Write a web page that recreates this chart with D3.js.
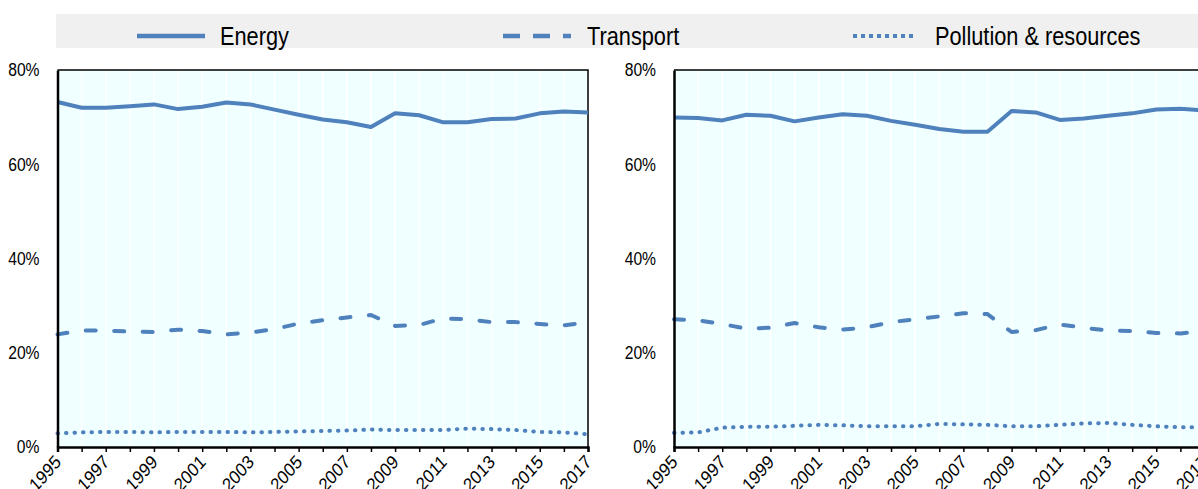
<!DOCTYPE html>
<html>
<head>
<meta charset="utf-8">
<script src="https://cdn.jsdelivr.net/npm/d3@7"></script>
<style>
  body { margin: 0; background: #fff; }
  text { font-family: "Liberation Sans", Arial, sans-serif; fill: #000; }
</style>
</head>
<body>
<div id="chart"></div>
<script>
let years = d3.range(1995, 2018);
let seriesNames = ['Energy', 'Transport', 'Pollution & resources'];
let yTicks = [0, 20, 40, 60, 80];
let xLabelYears = [1995, 1997, 1999, 2001, 2003, 2005, 2007, 2009, 2011, 2013, 2015, 2017];

// left panel, shares in %
let leftEnergy = [73.2, 72.0, 72.0, 72.3, 72.7, 71.7, 72.2, 73.1, 72.7, 71.6, 70.5, 69.5, 68.9, 67.9, 70.8, 70.4, 68.9, 68.9, 69.6, 69.7, 70.8, 71.2, 71.0];
let leftTransport = [23.9, 24.7, 24.7, 24.5, 24.4, 24.9, 24.6, 23.9, 24.3, 25.0, 26.2, 26.9, 27.5, 28.0, 25.7, 25.9, 27.3, 27.1, 26.5, 26.5, 26.1, 25.8, 26.5];
let leftPollution = [2.9, 3.1, 3.2, 3.2, 3.1, 3.2, 3.2, 3.2, 3.1, 3.2, 3.3, 3.4, 3.5, 3.7, 3.6, 3.6, 3.6, 3.9, 3.8, 3.6, 3.2, 3.1, 2.7];

// right panel, shares in %
let rightEnergy = [69.9, 69.8, 69.3, 70.5, 70.3, 69.1, 69.9, 70.6, 70.3, 69.2, 68.4, 67.5, 66.9, 66.9, 71.3, 71.0, 69.4, 69.7, 70.3, 70.8, 71.6, 71.8, 71.4];
let rightTransport = [27.1, 26.9, 26.1, 25.1, 25.3, 26.3, 25.4, 24.9, 25.4, 26.5, 27.1, 27.7, 28.4, 28.2, 24.4, 24.8, 26.0, 25.3, 24.7, 24.6, 24.2, 24.1, 24.6];
let rightPollution = [3.0, 3.1, 4.1, 4.3, 4.3, 4.5, 4.7, 4.6, 4.4, 4.4, 4.4, 4.9, 4.8, 4.7, 4.4, 4.4, 4.7, 5.0, 5.1, 4.7, 4.4, 4.2, 4.2];

let w = 1198;
let h = 489;
let lineColor = '#4f81bd';
let plotW = 530.5;
let plotTop = 70;
let plotBottom = 447;
let squeeze = 0.87; // the type in the original is horizontally condensed

let svg = d3.select('#chart')
            .append('svg')
            .attr('width', w)
            .attr('height', h);

// legend band
let legend = svg.append('g');
legend.append('rect')
      .attr('x', 56)
      .attr('y', 14)
      .attr('width', w - 56)
      .attr('height', 34)
      .attr('fill', '#f0f0f0');

let legendItems = [
  {x: 137, text: 220, dash: null},
  {x: 503, text: 587, dash: '17,13'},
  {x: 853, text: 935, dash: '4,4'}
];
legendItems.forEach((it, i) => {
  legend.append('line')
        .attr('x1', it.x)
        .attr('x2', it.x + (i == 2 ? 64 : 68))
        .attr('y1', 36)
        .attr('y2', 36)
        .attr('stroke', lineColor)
        .attr('stroke-width', i == 2 ? 4 : 4.5)
        .attr('stroke-dasharray', it.dash);
  legend.append('text')
        .attr('transform', 'translate(' + it.text + ',45) scale(' + squeeze + ',1)')
        .style('font-size', '25px')
        .text(seriesNames[i]);
});

function drawPanel(x0, energy, transport, pollution) {
  let xScale = d3.scaleLinear()
                 .domain([1995, 2017])
                 .range([x0, x0 + plotW]);
  let yScale = d3.scaleLinear()
                 .domain([0, 80])
                 .range([plotBottom, plotTop]);

  let g = svg.append('g');

  g.append('rect')
   .attr('x', x0)
   .attr('y', plotTop)
   .attr('width', plotW)
   .attr('height', plotBottom - plotTop)
   .attr('fill', '#f0ffff');

  // faint white year lines
  g.selectAll('.vgrid')
   .data(years.slice(1, -1))
   .enter()
   .append('line')
   .attr('x1', (d) => xScale(d))
   .attr('x2', (d) => xScale(d))
   .attr('y1', plotTop)
   .attr('y2', plotBottom)
   .attr('stroke', '#ffffff')
   .attr('stroke-width', 1.5);

  // frame top and right
  g.append('path')
   .attr('d', 'M' + x0 + ',' + plotTop + 'H' + (x0 + plotW) + 'V' + plotBottom)
   .attr('fill', 'none')
   .attr('stroke', '#000')
   .attr('stroke-width', 1.5);

  let line = d3.line()
               .x((d, i) => xScale(years[i]))
               .y((d) => yScale(d));

  let series = [
    {vals: energy, dash: null},
    {vals: transport, dash: '10,18.5'},
    {vals: pollution, dash: '0.5,8'}
  ];
  series.forEach((s) => {
    g.append('path')
     .datum(s.vals)
     .attr('d', line)
     .attr('fill', 'none')
     .attr('stroke', lineColor)
     .attr('stroke-width', 4)
     .attr('stroke-linecap', s.dash ? 'round' : 'butt')
     .attr('stroke-linejoin', 'round')
     .attr('stroke-dasharray', s.dash);
  });

  let xAxis = d3.axisBottom(xScale)
                .tickValues(years)
                .tickSize(5)
                .tickFormat((d) => xLabelYears.indexOf(d) >= 0 ? d : '');
  let ax = g.append('g')
            .attr('transform', 'translate(0,' + plotBottom + ')')
            .call(xAxis);
  ax.select('.domain').attr('stroke', '#000').attr('stroke-width', 2.5);
  ax.selectAll('.tick line').attr('stroke', '#000').attr('stroke-width', 1.5);
  ax.selectAll('.tick text')
    .style('font-size', '19px')
    .attr('text-anchor', 'end')
    .attr('x', 0)
    .attr('y', 0)
    .attr('dy', 0)
    .attr('transform', 'translate(4,16) scale(' + squeeze + ',1) rotate(-45)');

  let yAxis = d3.axisLeft(yScale)
                .tickValues(yTicks)
                .tickSize(0)
                .tickPadding(0)
                .tickFormat((d) => d + '%');
  let ay = g.append('g')
            .attr('transform', 'translate(' + x0 + ',0)')
            .call(yAxis);
  ay.select('.domain').attr('stroke', '#000').attr('stroke-width', 2.5);
  ay.selectAll('.tick text')
    .style('font-size', '18px')
    .attr('x', 0)
    .attr('transform', 'translate(-18,0) scale(' + squeeze + ',1)');
}

drawPanel(57.5, leftEnergy, leftTransport, leftPollution);
drawPanel(674, rightEnergy, rightTransport, rightPollution);
</script>
</body>
</html>
